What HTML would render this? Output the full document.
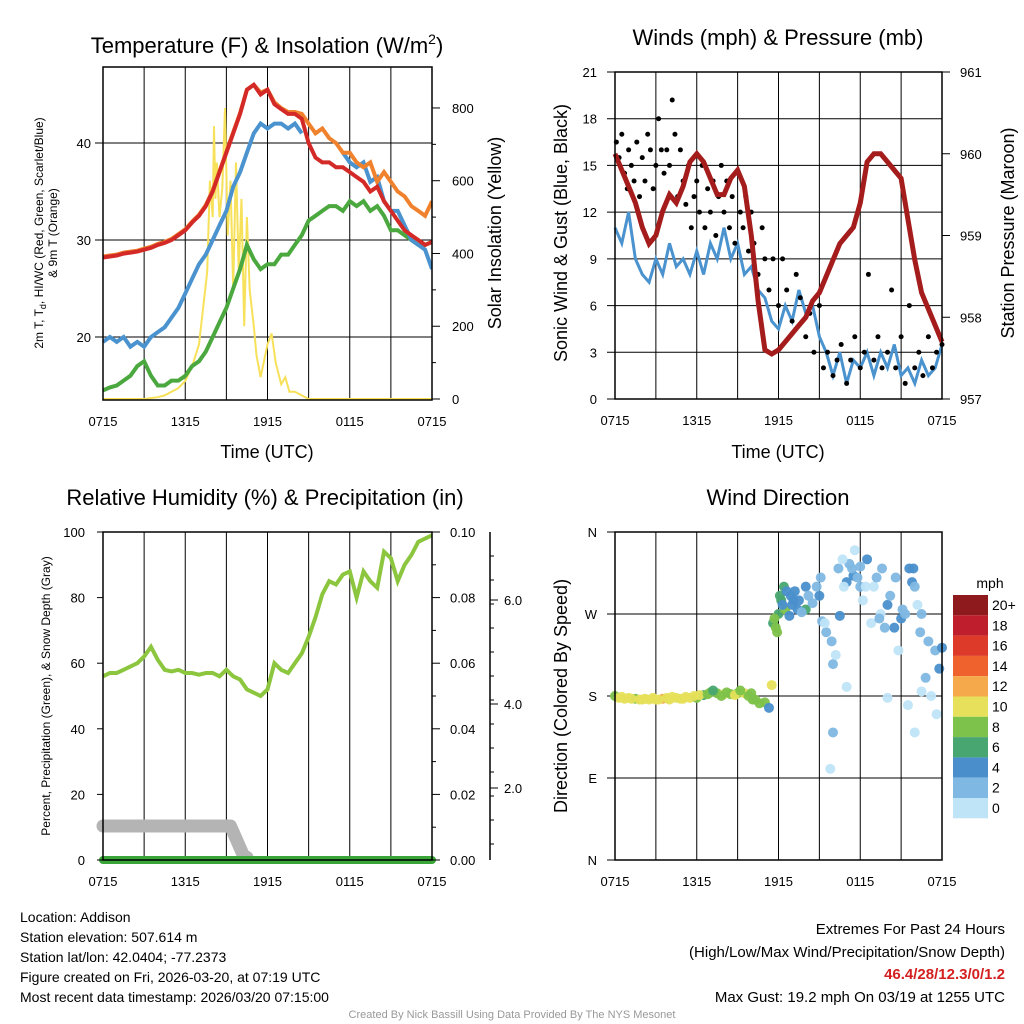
<!DOCTYPE html>
<html><head><meta charset="utf-8"><style>
html,body{margin:0;padding:0;background:#fff;}
svg{display:block;font-family:"Liberation Sans",sans-serif;}
</style></head><body>
<svg id="svg" width="1024" height="1024" viewBox="0 0 1024 1024" xmlns="http://www.w3.org/2000/svg">
<g id="grid"></g><g id="marks"></g><g id="axes"></g>
<g font-size="22" text-anchor="middle" fill="#000">
<text x="267" y="53">Temperature (F) &amp; Insolation (W/m<tspan font-size="14" dy="-9">2</tspan><tspan dy="9">)</tspan></text>
<text x="778" y="45">Winds (mph) &amp; Pressure (mb)</text>
<text x="265" y="505">Relative Humidity (%) &amp; Precipitation (in)</text>
<text x="778" y="505">Wind Direction</text>
</g>
<g font-size="18" text-anchor="middle">
<text x="267" y="458">Time (UTC)</text>
<text x="778" y="458">Time (UTC)</text>
<text transform="translate(501,233) rotate(-90)">Solar Insolation (Yellow)</text>
<text transform="translate(567,233) rotate(-90)">Sonic Wind &amp; Gust (Blue, Black)</text>
<text transform="translate(1014,233) rotate(-90)">Station Pressure (Maroon)</text>
<text transform="translate(567,696) rotate(-90)">Direction (Colored By Speed)</text>
</g>
<g font-size="12" text-anchor="middle">
<text transform="translate(43,233) rotate(-90)">2m T, T<tspan font-size="9" dy="3">d</tspan><tspan dy="-3">, HI/WC (Red, Green, Scarlet/Blue)</tspan></text>
<text transform="translate(57,233) rotate(-90)">&amp; 9m T (Orange)</text>
<text transform="translate(50,696) rotate(-90)">Percent, Precipitation (Green), &amp; Snow Depth (Gray)</text>
</g>
<g font-size="14">
<text x="20" y="922">Location: Addison</text>
<text x="20" y="942">Station elevation: 507.614 m</text>
<text x="20" y="962">Station lat/lon: 42.0404; -77.2373</text>
<text x="20" y="982">Figure created on Fri, 2026-03-20, at 07:19 UTC</text>
<text x="20" y="1002">Most recent data timestamp: 2026/03/20 07:15:00</text>
</g>
<g font-size="15" text-anchor="end">
<text x="1005" y="934">Extremes For Past 24 Hours</text>
<text x="1005" y="957">(High/Low/Max Wind/Precipitation/Snow Depth)</text>
<text x="1005" y="979" fill="#d42020" font-weight="bold">46.4/28/12.3/0/1.2</text>
<text x="1005" y="1002">Max Gust: 19.2 mph On 03/19 at 1255 UTC</text>
</g>
<text x="512" y="1018" font-size="11" fill="#999" text-anchor="middle">Created By Nick Bassill Using Data Provided By The NYS Mesonet</text>
</svg>
<script>
const tempT=[0,0.5,1,1.5,2,2.5,3,3.5,4,4.5,5,5.5,6,6.5,7,7.5,8,8.5,9,9.5,10,10.5,11,11.5,12,12.5,13,13.5,14,14.5,15,15.5,16,16.5,17,17.5,18,18.5,19,19.5,20,20.5,21,21.5,22,22.5,23,23.5,24];
const redT=[28.2,28.3,28.4,28.6,28.7,28.8,29,29.2,29.5,29.7,30,30.5,31,31.8,32.5,33.5,35,37,39,41,43,45.5,46,45,45.5,44,43.5,43,43,42.5,40,38.5,38,38,37.5,37.5,37,36.5,36,35,35.5,34,33,32,31,30.5,30,29.5,29.8];
const orangeT=[28.3,28.4,28.5,28.7,28.8,28.9,29.1,29.3,29.6,29.8,30.1,30.6,31.1,31.9,32.6,33.6,35.1,37.1,39.1,41.1,43.1,45.5,46,45.2,45.5,44.2,43.6,43.2,43.2,43,42,41,41.5,40.5,40,39,39,38,37.5,38,36,37,36,35,34.5,33.5,33,32.5,34];
const blueT=[19.5,20,19.5,20,19,19.5,19,20,20.5,21,22,23,24.5,26,27.5,28.5,30,31.5,33,35.5,37,39,41,42,41.5,42,42,41.5,42,41,null,null,null,null,null,39,38,37.5,38,36,36.5,34,33,33,31.5,30,29.5,29,27];
const greenTd=[14.5,14.8,15,15.5,16,17,17.5,16,15,15,15.5,15.5,16,17,17.5,18.5,20,21.5,23,25,27,29.5,28,27,27.5,27.5,28.5,28.5,29.5,30.5,32,32.5,33,33.5,33.5,33,34,33.5,34,33,33.5,32.5,31,31,30.5,30,29.5,29.5,29.8];
const solarT=[0,3,4,4.5,5,5.5,6,6.5,7,7.3,7.6,7.8,8,8.1,8.2,8.3,8.5,8.7,8.9,9.1,9.3,9.5,9.7,9.9,10.1,10.3,10.5,10.7,11,11.2,11.5,12,12.3,12.6,13,13.3,13.6,14,15,24];
const solarV=[0,0,5,10,20,30,50,90,150,250,350,600,500,750,550,650,500,580,800,450,600,300,650,350,550,200,500,300,200,120,60,150,180,100,40,60,20,20,0,0];
const windT=tempT;
const windV=[11,10,12,9,8,7.5,9,8,10,8.5,9,8,9.5,8,10,9,11,9,10,8,8.5,7,6.5,5,4.5,6,5,7,5.5,6,4,3,1.5,3,1,2.5,2,3,1.5,3,2,3.5,1.5,2,1,2.5,1.5,2,3.5];
const presV=[960,959.8,959.6,959.4,959.1,958.9,959,959.3,959.5,959.4,959.6,959.9,960,959.9,959.7,959.5,959.5,959.7,959.8,959.6,959,958.2,957.6,957.55,957.6,957.7,957.8,957.9,958,958.2,958.3,958.5,958.7,958.9,959,959.1,959.4,959.9,960,960,959.9,959.8,959.7,959.2,958.7,958.3,958.1,957.9,957.7];
const gustT=[0.1,0.3,0.5,0.7,0.9,1,1.2,1.4,1.6,1.8,2,2.2,2.4,2.6,2.8,3,3.2,3.4,3.6,3.8,4,4.2,4.4,4.6,4.8,5,5.2,5.4,5.6,5.8,6,6.2,6.4,6.6,6.8,7,7.2,7.4,7.6,7.8,8,8.2,8.4,8.6,8.8,9,9.2,9.4,9.6,9.8,10,10.2,10.5,10.8,11,11.3,11.6,12,12.3,12.6,13,13.3,13.6,14,14.3,14.6,15,15.3,15.6,16,16.3,16.6,17,17.3,17.6,18,18.3,18.6,19,19.3,19.6,20,20.3,20.6,21,21.3,21.6,22,22.3,22.6,23,23.3,23.6,24];
const gustV=[16.5,15.5,17,14.5,13.5,16,15,14,16.5,13,15.5,14,17,16,13.5,15,18,16,14.5,16,15,19.2,17,13,16,14,12.5,15,11,13,14,12,15,11,13.5,12,14,10.5,13,15,12,14,11,13,10,14.5,12,11,13,9.5,12,10,8,11,9,7,9,6,9,7,5,8,6.5,4,5.5,3,6,2,3,1.5,2.5,3.5,1,2.5,4,2,3,8,2.5,4,2,3,7,2,4,1,6,2,3,1.5,4,2,3,3.5];
const rhV=[56,57,57,58,59,60,62,65,61,58,57.5,58,57,57,56.5,57,57,56,58,56,55,52,51,50,52,60,58,57,60,63,68,74,81,85,84,87,88,80,88,85,83,94,92,85,90,93,97,98,99];
const snowT=[0,9.3,10.3,10.5];
const snowV=[1.2,1.2,0.1,0.1];
const dirT=[0,0.3,0.7,1,1.5,2,2.5,3,3.5,4,4.5,5,5.5,6,6.5,7,7.5,8,8.5,9,9.5,10,10.3,10.6,11,11.3,11.5,11.6,11.8,12,12.2,12.5,12.8,13,13.5,14,14.5,15,15.2,15.5,16,16.2,16.5,17,17.2,17.5,18,18.2,19,19.5,20,20.5,21,21.3,21.8,22,22.5,23,23.5,24,16,15.8,17,20,21.5,22,22.5,18.5,19.2,14,13.2,12.4,11.7,11.9,12.1,12.3,12.6,12.9,13.1,13.4,13.7,14.2,14.8,15.1,15.4,15.9,16.4,16.7,17.4,17.8,18,18.4,18.8,19.4,19.8,20.2,20.6,21.1,21.6,21.9,22.2,22.8,23.2,23.6,23.8,22.4,20.8,17.6,16.8,19.6,0.5,1.2,1.8,2.2,2.8,3.2,3.8,4.2,4.8,5.2,5.8,6.2,6.8,7.2,7.8,8.2,8.8,9.2,9.8,10.1];
const dirV=[180,178,177,178,177,176,176,176,177,176,178,177,178,178,181,184,183,182,182,183,183,183,176,172,173,167,192,260,255,270,285,275,268,280,285,275,282,290,262,250,215,225,268,305,325,312,300,285,300,270,280,255,265,270,305,300,270,240,230,233,140,100,190,178,170,140,185,330,310,300,295,300,265,250,290,280,295,290,285,275,272,290,300,310,260,240,320,330,320,310,322,300,260,265,255,290,310,275,320,320,280,200,180,160,210,250,230,340,300,320,179,177,176,177,178,176,178,179,177,179,180,181,182,186,180,184,181,186,180,176];
const dirS=[7,9,10,9,7,10,10,10,12,10,10,10,9,8,6,7,8,9,8,8,10,8,7,8,7,4,10,6,8,6,6,8,4,4,4,5,2,3,2,2,1,0,4,3,2,3,2,0,0,0,4,4,3,1,3,2,2,2,1,3,1,0,0,0,0,0,0,3,1,4,4,6,7,7,5,4,4,3,4,3,2,2,1,1,0,1,2,0,2,2,2,0,0,2,2,2,1,1,3,3,0,1,0,0,3,2,0,0,0,2,10,9,10,10,9,10,10,9,10,10,9,10,8,6,7,7,9,8,7,7];
const cbLabels=["20+","18","16","14","12","10","8","6","4","2","0"];
const cbColors=["#8e1a1d","#bf1e2d","#dd3a2a","#ef612d","#f6a94a","#e6e05a","#7dc24a","#48a770","#4a8fcb","#7fb8e3","#bfe4f8"];
const hourLabels=["0715","1315","1915","0115","0715"];

const NS="http://www.w3.org/2000/svg";
const G=document.getElementById('grid'),M=document.getElementById('marks'),A=document.getElementById('axes');
function el(parent,tag,attrs){const e=document.createElementNS(NS,tag);for(const k in attrs)e.setAttribute(k,attrs[k]);parent.appendChild(e);return e;}
function txt(parent,x,y,s,size,anchor){const t=el(parent,'text',{x:x,y:y,'font-size':size,'text-anchor':anchor||'middle'});t.textContent=s;return t;}
function path(ts,vs,xf,yf){let d='',pen=false;for(let i=0;i<ts.length;i++){if(vs[i]==null){pen=false;continue;}d+=(pen?'L':'M')+xf(ts[i]).toFixed(1)+' '+yf(vs[i]).toFixed(1)+' ';pen=true;}return d;}

const P1={x0:103,x1:432,y0:67,y1:400}, P2={x0:615,x1:942,y0:72,y1:399}, P3={x0:103,x1:432,y0:532,y1:860}, P4={x0:615,x1:942,y0:532,y1:860};
const xs=p=>h=>p.x0+h*(p.x1-p.x0)/24;
const x1=xs(P1),x2=xs(P2),x3=xs(P3),x4=xs(P4);
const yTemp=v=>337-(v-20)*9.7;
const ySol=v=>399-v*0.3638;
const yWind=v=>399-v*327/21;
const yPres=v=>399-(v-957)*81.75;
const yRH=v=>860-v*3.28;
const ySnow=v=>860-v*28.3;
const yDir=v=>860-v*328/360;

function frame(p,name){
  for(let k=1;k<8;k++){const l=el(G,'line',{x1:p.x0+k*(p.x1-p.x0)/8,x2:p.x0+k*(p.x1-p.x0)/8,y1:p.y0,y2:p.y1,stroke:'#000','stroke-width':1});
    
    }
  const r=el(A,'rect',{x:p.x0,y:p.y0,width:p.x1-p.x0,height:p.y1-p.y0,fill:'none',stroke:'#000','stroke-width':1.5});
  
  
  hourLabels.forEach((s,i)=>{const t=txt(A,p.x0+i*(p.x1-p.x0)/4,p.y1+26,s,13);
    
    });
}
function hgrid(p,y,name){const l=el(G,'line',{x1:p.x0-8,x2:p.x1,y1:y,y2:y,stroke:'#000','stroke-width':1});
  
  }
function lab(x,y,s,anchor,name){const t=txt(A,x,y+5,s,13,anchor);
  
  }
function tick(x,y,len){el(A,'line',{x1:x,x2:x+len,y1:y,y2:y,stroke:'#000','stroke-width':1});}

frame(P1,'temp');
[20,30,40].forEach(v=>{hgrid(P1,yTemp(v),'temp-hgrid');lab(P1.x0-12,yTemp(v),String(v),'end','temp-y-tick-label');});
[0,200,400,600,800].forEach(v=>{tick(P1.x1,ySol(v),8);lab(P1.x1+20,ySol(v),String(v),'start','solar-y-tick-label');});
[100,300,500,700].forEach(v=>tick(P1.x1,ySol(v),4));
const clip1=el(M,'clipPath',{id:'c1'});el(clip1,'rect',{x:P1.x0,y:P1.y0,width:P1.x1-P1.x0,height:P1.y1-P1.y0});
const g1=el(M,'g',{'clip-path':'url(#c1)'});
let s;
s=el(g1,'path',{d:path(solarT,solarV,x1,ySol),fill:'none',stroke:'#f7e15a','stroke-width':2});


s=el(g1,'path',{d:path(tempT,greenTd,x1,yTemp),fill:'none',stroke:'#4aa83f','stroke-width':4});


s=el(g1,'path',{d:path(tempT,blueT,x1,yTemp),fill:'none',stroke:'#4a93cf','stroke-width':4});


s=el(g1,'path',{d:path(tempT,orangeT,x1,yTemp),fill:'none',stroke:'#f0822d','stroke-width':4});


s=el(g1,'path',{d:path(tempT,redT,x1,yTemp),fill:'none',stroke:'#d42a27','stroke-width':4});



frame(P2,'wind');
[0,3,6,9,12,15,18,21].forEach(v=>{hgrid(P2,yWind(v),'wind-hgrid');lab(P2.x0-18,yWind(v),String(v),'end','wind-y-tick-label');});
[957,958,959,960,961].forEach(v=>{tick(P2.x1,yPres(v),8);lab(P2.x1+18,yPres(v),String(v),'start','pressure-y-tick-label');});
s=el(M,'path',{d:path(windT,windV,x2,yWind),fill:'none',stroke:'#4a93cf','stroke-width':3});


gustT.forEach((t,i)=>{const c=el(M,'circle',{cx:x2(t),cy:yWind(gustV[i]),r:2.5,fill:'#000'});
  
  });
s=el(M,'path',{d:path(tempT,presV,x2,yPres),fill:'none',stroke:'#a51c1c','stroke-width':5});



frame(P3,'rh');
[0,20,40,60,80,100].forEach(v=>{tick(P3.x0-6,yRH(v),6);lab(P3.x0-18,yRH(v),String(v),'end','rh-y-tick-label');});
for(let i=0;i<=10;i++){tick(P3.x1,yRH(i*10),i%2==0?8:4);if(i%2==0)lab(P3.x1+18,yRH(i*10),(i/100).toFixed(2),'start','precip-y-tick-label');}
s=el(A,'line',{x1:490,x2:490,y1:P3.y0,y2:P3.y1,stroke:'#000','stroke-width':1.5});


for(let y=556;y<860;y+=24)tick(490,y,4);
[["6.0",600],["4.0",704],["2.0",788]].forEach(a=>{tick(490,a[1],8);lab(504,a[1],a[0],'start','snow-y-tick-label');});
s=el(M,'path',{d:path(snowT,snowV,x3,ySnow),fill:'none',stroke:'#b4b4b4','stroke-width':13,'stroke-linecap':'round','stroke-linejoin':'round'});


s=el(M,'path',{d:path(tempT,rhV,x3,yRH),fill:'none',stroke:'#8cc63f','stroke-width':4});


s=el(M,'line',{x1:x3(0),x2:x3(24),y1:yRH(0),y2:yRH(0),stroke:'#3aa63a','stroke-width':8,'stroke-linecap':'round'});



frame(P4,'dir');
[["N",0],["E",90],["S",180],["W",270],["N",360]].forEach(a=>{hgrid(P4,yDir(a[1]),'dir-hgrid');lab(P4.x0-18,yDir(a[1]),a[0],'end','dir-y-tick-label');});
function spdColor(v){let idx=Math.min(10,Math.floor((v+1)/2));return cbColors[10-idx];}
dirT.forEach((t,i)=>{const c=el(M,'circle',{cx:x4(t),cy:yDir(dirV[i]),r:5,fill:spdColor(dirS[i]),'fill-opacity':0.95});
  
  });
s=txt(A,990,588,'mph',14,'middle');


cbColors.forEach((c,i)=>{const r=el(A,'rect',{x:953,y:595+i*20.3,width:35,height:20.3,fill:c});
  
  
  const t=txt(A,992,595+i*20.3+15,cbLabels[i],14,'start');
  
  });
</script>
</body></html>
